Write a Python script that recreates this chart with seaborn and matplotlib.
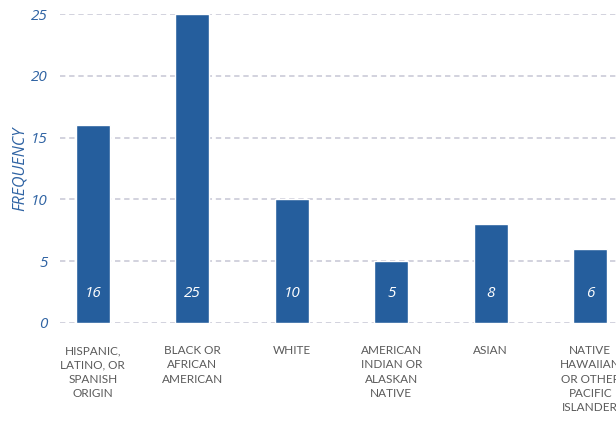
import matplotlib
matplotlib.use("Agg")
import matplotlib.pyplot as plt
import seaborn as sns
import pandas as pd

categories = [
    "HISPANIC,\nLATINO, OR\nSPANISH\nORIGIN",
    "BLACK OR\nAFRICAN\nAMERICAN",
    "WHITE",
    "AMERICAN\nINDIAN OR\nALASKAN\nNATIVE",
    "ASIAN",
    "NATIVE\nHAWAIIAN\nOR OTHER\nPACIFIC\nISLANDER",
]
frequency = [16, 25, 10, 5, 8, 6]
y_ticks = [0, 5, 10, 15, 20, 25]

bar_color = "#255e9d"
tick_blue = "#2f63a3"
label_gray = "#5a5a5a"
grid_color = "#c6c6d4"

sns.set_theme(style="white")
plt.rcParams["font.family"] = ["Open Sans", "DejaVu Sans"]

df = pd.DataFrame({"group": categories, "freq": frequency})

fig = plt.figure(figsize=(6.16, 4.25), dpi=100)
# axes run past the right edge so the last column is cut off
ax = fig.add_axes([60 / 616, 102 / 425, 580 / 616, 309 / 425])

sns.barplot(data=df, x="group", y="freq", color=bar_color, width=0.34,
            saturation=1, ax=ax, zorder=3)

ax.set_xlim(-0.33, 5.5)
ax.set_ylim(0, 25)
ax.set_yticks(y_ticks)
ax.set_yticklabels([str(t) for t in y_ticks], fontstyle="italic",
                   color=tick_blue, fontsize=11)
ax.yaxis.grid(True, linestyle=(0, (3.5, 2.5)), color=grid_color, linewidth=1.1,
              zorder=0)
ax.set_axisbelow(True)
for sp in ax.spines.values():
    sp.set_visible(False)
ax.tick_params(axis="y", length=0, pad=9)
ax.tick_params(axis="x", length=0, pad=16)
ax.set_xticks(range(len(categories)))
ax.set_xticklabels(categories, fontsize=8.5, color=label_gray,
                   linespacing=1.35, va="top", fontfamily="Lato")
ax.set_xlabel("")
ax.set_ylabel("FREQUENCY", fontstyle="italic", color=tick_blue, fontsize=11.5)
ax.yaxis.set_label_coords(-0.055, 0.5)

for i, v in enumerate(frequency):
    ax.text(i, 2.4, str(v), color="white", fontstyle="italic", fontsize=11,
            ha="center", va="center", zorder=4)

fig.savefig("out.png", dpi=100)
